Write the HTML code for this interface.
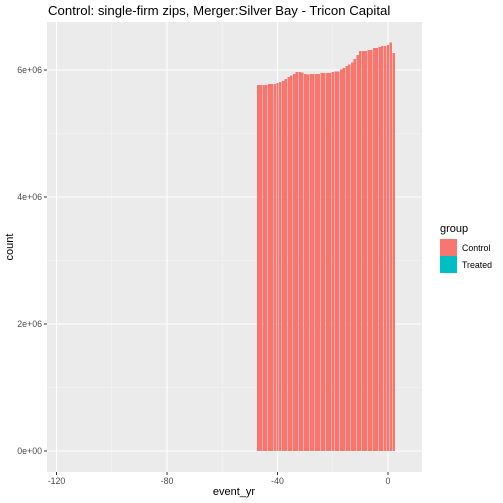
<!DOCTYPE html>
<html><head><meta charset="utf-8"><style>body{margin:0;background:#fff}svg{display:block;font-family:"Liberation Sans",sans-serif}</style></head>
<body>
<svg id="c" width="503" height="503">
<rect width="503" height="503" fill="#fff"/>
<text x="48" y="15" font-size="13.2" fill="#000">Control: single-firm zips, Merger:Silver Bay - Tricon Capital</text>
<rect x="47" y="22" width="375" height="450" fill="#ebebeb"/>
<g id="grid"></g><g id="bars"></g><g id="axes"></g>
<text x="234" y="495" font-size="11" text-anchor="middle">event_yr</text>
<text transform="translate(13,247) rotate(-90)" font-size="11" text-anchor="middle">count</text>
<text x="440" y="232" font-size="11">group</text>
<rect x="440" y="239" width="17" height="17" fill="#f8766d"/>
<text x="462" y="251" font-size="8.8">Control</text>
<rect x="440" y="256" width="17" height="17" fill="#00bfc4"/>
<text x="462" y="268" font-size="8.8">Treated</text>
</svg>
<script>
const years=[];for(let y=-47;y<=2;y++)years.push(y);
const controlCounts=[5.764,5.764,5.764,5.764,5.78,5.78,5.78,5.795,5.81,5.83,5.86,5.89,5.91,5.94,5.97,5.97,5.96,5.94,5.93,5.94,5.94,5.94,5.94,5.955,5.955,5.955,5.955,5.97,5.98,5.98,6.01,6.03,6.06,6.09,6.12,6.17,6.24,6.30,6.30,6.30,6.315,6.315,6.35,6.35,6.36,6.38,6.38,6.39,6.43,6.27];
const xTicks=[-120,-80,-40,0];
const yTicks=[0,2,4,6];
const yTickLabels=["0e+00","2e+06","4e+06","6e+06"];
const X=v=>388+(v)*2.7625, Y=v=>451-v*63.5;
const NS="http://www.w3.org/2000/svg";
function mk(p,t,a){const e=document.createElementNS(NS,t);for(const k in a)e.setAttribute(k,a[k]);p.appendChild(e);return e;}
const g=document.getElementById('grid'),b=document.getElementById('bars'),ax=document.getElementById('axes');
[-140,-100,-60,-20].forEach(v=>{if(X(v)>47){const l=mk(g,'line',{x1:X(v),x2:X(v),y1:22,y2:472,stroke:'#f5f5f5','stroke-width':0.5});}});
[1,3,5].forEach(v=>{const l=mk(g,'line',{x1:47,x2:422,y1:Y(v),y2:Y(v),stroke:'#f5f5f5','stroke-width':0.5});});
xTicks.forEach(v=>{const l=mk(g,'line',{x1:X(v),x2:X(v),y1:22,y2:472,stroke:'#fff','stroke-width':1.1});
const t=mk(ax,'line',{x1:X(v),x2:X(v),y1:472,y2:475,stroke:'#333'});
const s=mk(ax,'text',{x:X(v),y:484,'font-size':8.8,fill:'#4d4d4d','text-anchor':'middle'});s.textContent=v;});
yTicks.forEach((v,i)=>{const l=mk(g,'line',{x1:47,x2:422,y1:Y(v),y2:Y(v),stroke:'#fff','stroke-width':1.1});
const t=mk(ax,'line',{x1:44,x2:47,y1:Y(v),y2:Y(v),stroke:'#333'});
const s=mk(ax,'text',{x:42,y:Y(v)+3,'font-size':8.8,fill:'#4d4d4d','text-anchor':'end'});s.textContent=yTickLabels[i];});
years.forEach((yr,i)=>{const w=2.7625*0.9;const r=mk(b,'rect',{x:X(yr)-w/2,y:Y(controlCounts[i]),width:w,height:Y(0)-Y(controlCounts[i]),fill:'#f8766d','shape-rendering':'crispEdges'});

});
</script>
</body></html>
